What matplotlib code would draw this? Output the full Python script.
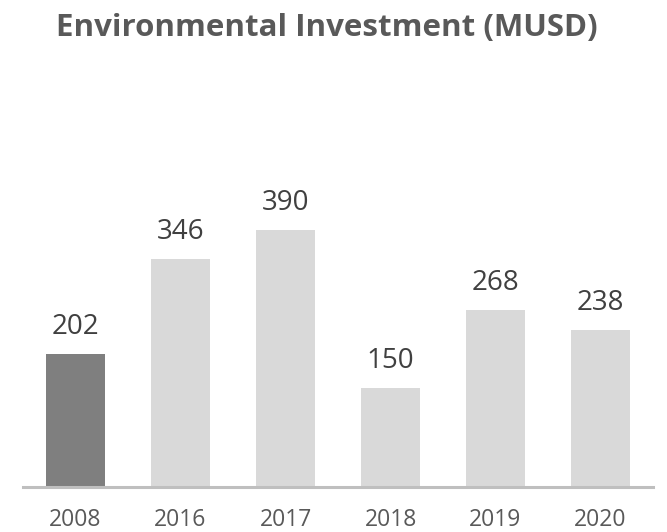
import matplotlib
matplotlib.use("Agg")
import matplotlib.pyplot as plt

years = ["2008", "2016", "2017", "2018", "2019", "2020"]
investment = [202, 346, 390, 150, 268, 238]
bar_colors = ["#7f7f7f", "#d9d9d9", "#d9d9d9", "#d9d9d9", "#d9d9d9", "#d9d9d9"]

plt.rcParams["font.family"] = ["Open Sans", "DejaVu Sans"]

fig = plt.figure(figsize=(6.67, 5.32), dpi=100)
ax = fig.add_axes([0.0345, 0.0846, 0.9445, 0.727])

x = range(len(years))
bars = ax.bar(x, investment, width=0.57, color=bar_colors)

# value labels sit a fixed distance above each bar
for rect, val in zip(bars, investment):
    ax.annotate(str(val), (rect.get_x() + rect.get_width() / 2, val),
                xytext=(0, 14.4), textcoords="offset points",
                ha="center", va="baseline", fontsize=20, color="#404040")

ax.set_xlim(-0.5, 5.5)
ax.set_ylim(0, 587)
ax.set_xticks(list(x))
ax.set_xticklabels(years, fontsize=16.5, color="#595959")
for lbl in ax.get_xticklabels():
    lbl.set_va("baseline")
ax.tick_params(axis="x", length=0, pad=28)
ax.set_yticks([])

for side in ["top", "right", "left"]:
    ax.spines[side].set_visible(False)
ax.spines["bottom"].set_color("#bfbfbf")
ax.spines["bottom"].set_linewidth(2.2)

fig.text(0.4895, 0.932, "Environmental Investment (MUSD)", ha="center", va="baseline",
         fontsize=22.5, fontweight="bold", color="#595959")

fig.savefig("out.png", dpi=100)
